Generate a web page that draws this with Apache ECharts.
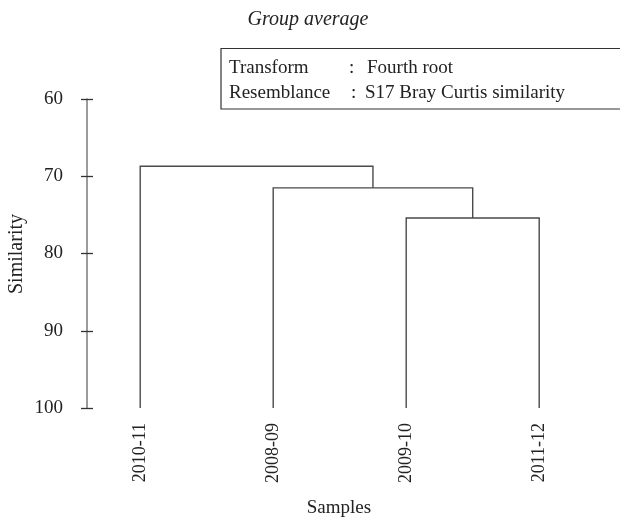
<!DOCTYPE html>
<html>
<head>
<meta charset="utf-8">
<script src="https://cdn.jsdelivr.net/npm/echarts@6/dist/echarts.min.js"></script>
<style>
html,body{margin:0;padding:0;background:#fff;}
#c{width:620px;height:518px;}
</style>
</head>
<body>
<div id="c"></div>
<script>
// ---- data ----
var leaves = ['2010-11', '2008-09', '2009-10', '2011-12'];
// merges: [left child, right child, similarity]; children: leaf index (number) or 'm<k>' for previous merge
var mergeLeft = [2, 1, 0];
var mergeRight = [3, 'm0', 'm1'];
var mergeHeight = [75.4, 71.5, 68.7];
var leafHeight = 100;
var yTicks = [60, 70, 80, 90, 100];
var titleText = 'Group average';
var infoKeys = ['Transform', 'Resemblance'];
var infoValues = ['Fourth root', 'S17 Bray Curtis similarity'];
var xName = 'Samples';
var yName = 'Similarity';

// ---- build dendrogram links ----
var nodePos = [], nodeH = [];
function childInfo(c) {
  if (typeof c === 'number') return [c + 1, leafHeight];
  var k = parseInt(c.slice(1), 10);
  return [nodePos[k], nodeH[k]];
}
var links = [];
for (var i = 0; i < mergeHeight.length; i++) {
  var L = childInfo(mergeLeft[i]), R = childInfo(mergeRight[i]);
  nodePos[i] = (L[0] + R[0]) / 2;
  nodeH[i] = mergeHeight[i];
  links.push([L[0], L[1], R[0], R[1], mergeHeight[i]]);
}

var font = 'Liberation Serif';
var chart = echarts.init(document.getElementById('c'), null, {renderer: 'canvas'});
chart.setOption({
  animation: false,
  backgroundColor: '#fff',
  grid: {left: 87, right: 27.6, top: 99, bottom: 110, containLabel: false},
  xAxis: {
    type: 'value', min: 0.6, max: 4.4,
    axisLine: {show: false}, axisTick: {show: false}, splitLine: {show: false},
    axisLabel: {
      customValues: [1, 2, 3, 4],
      formatter: function (v) { return leaves[Math.round(v) - 1] || ''; },
      rotate: 90, margin: 15, fontFamily: font, fontSize: 18, color: '#222',
      padding: [0, 0, 7, 0]
    }
  },
  yAxis: [{
    type: 'value', inverse: true, min: 60, max: 100, interval: 10,
    axisLine: {show: true, lineStyle: {color: '#7a7a7a', width: 1.5}},
    axisTick: {show: true, length: 6, lineStyle: {color: '#333', width: 1.3}},
    splitLine: {show: false},
    axisLabel: {margin: 24, fontFamily: font, fontSize: 19, color: '#222', padding: [6, 0, 0, 0],
      formatter: function (v) { return yTicks.indexOf(v) >= 0 ? String(v) : ''; }}
  }, {
    type: 'value', inverse: true, min: 60, max: 100, interval: 10, position: 'left',
    axisLine: {show: false},
    axisTick: {show: true, inside: true, length: 6, lineStyle: {color: '#333', width: 1.3}},
    axisLabel: {show: false}, splitLine: {show: false}
  }],
  series: [{
    type: 'custom',
    coordinateSystem: 'cartesian2d',
    xAxisIndex: 0, yAxisIndex: 0,
    data: links,
    renderItem: function (params, api) {
      var a = api.coord([api.value(0), api.value(1)]);
      var b = api.coord([api.value(0), api.value(4)]);
      var c = api.coord([api.value(2), api.value(4)]);
      var d = api.coord([api.value(2), api.value(3)]);
      return {
        type: 'polyline',
        shape: {points: [a, b, c, d]},
        style: {stroke: '#4a4a4a', lineWidth: 1.4, fill: null}
      };
    },
    silent: true
  }],
  graphic: [
    {type: 'text', x: 308, y: 20, style: {text: titleText, font: 'italic 20px "Liberation Serif"', fill: '#222', align: 'center', verticalAlign: 'middle'}},
    {type: 'rect', shape: {x: 221, y: 48.5, width: 420, height: 60.5}, style: {fill: 'none', stroke: '#333', lineWidth: 1.2}},
    {type: 'text', x: 229, y: 68, style: {text: infoKeys[0], font: '19px "Liberation Serif"', fill: '#222', verticalAlign: 'middle'}},
    {type: 'text', x: 229, y: 93, style: {text: infoKeys[1], font: '19px "Liberation Serif"', fill: '#222', verticalAlign: 'middle'}},
    {type: 'text', x: 349, y: 68, style: {text: ':', font: '19px "Liberation Serif"', fill: '#222', verticalAlign: 'middle'}},
    {type: 'text', x: 351, y: 93, style: {text: ':', font: '19px "Liberation Serif"', fill: '#222', verticalAlign: 'middle'}},
    {type: 'text', x: 367, y: 68, style: {text: infoValues[0], font: '19px "Liberation Serif"', fill: '#222', verticalAlign: 'middle'}},
    {type: 'text', x: 365, y: 93, style: {text: infoValues[1], font: '19px "Liberation Serif"', fill: '#222', verticalAlign: 'middle'}},
    {type: 'text', x: 17, y: 254, rotation: Math.PI / 2, style: {text: yName, font: '20px "Liberation Serif"', fill: '#222', align: 'center', verticalAlign: 'middle'}},
    {type: 'text', x: 339, y: 508, style: {text: xName, font: '19px "Liberation Serif"', fill: '#222', align: 'center', verticalAlign: 'middle'}}
  ]
});
</script>
</body>
</html>
